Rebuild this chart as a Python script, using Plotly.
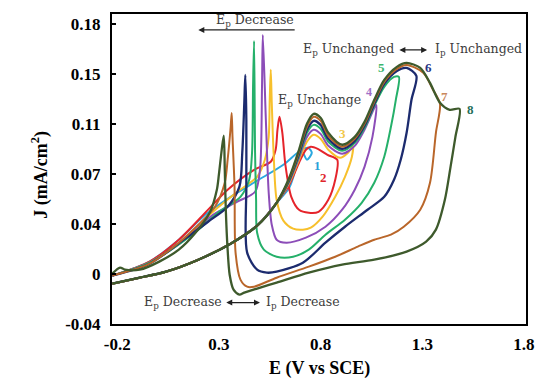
import plotly.graph_objects as go
import numpy as np

# Common start of the anodic (forward) scan
FWD_E = [-0.224, -0.089, 0.040, 0.199, 0.358, 0.488, 0.584]
FWD_J = [-0.0107, -0.0063, -0.0019, 0.0069, 0.0187, 0.0319, 0.0487]

# Curve 1 (cyan)
E1 = [0.646, 0.680, 0.709, 0.733, 0.757, 0.738, 0.699, 0.617, 0.488, 0.358, 0.233, 0.103, -0.041, -0.224]
J1 = [0.0597, 0.0744, 0.0861, 0.0803, 0.0854, 0.0891, 0.0869, 0.0766, 0.0649, 0.0531, 0.0399, 0.0216, 0.0055, -0.0048]

# Curve 2 (red)
E2 = [0.646, 0.694, 0.728, 0.752, 0.786, 0.834, 0.882,
      0.872, 0.838, 0.790, 0.742, 0.694, 0.656, 0.627, 0.612, 0.598, 0.588, 0.579, 0.555, 0.473, 0.343, 0.233, 0.103, -0.041, -0.224]
J2 = [0.0619, 0.0781, 0.0876, 0.0898, 0.0883, 0.0839, 0.0803,
      0.0656, 0.0509, 0.0421, 0.0414, 0.0436, 0.0531, 0.0766, 0.1001, 0.1118, 0.1023, 0.0876, 0.0788, 0.0729, 0.0583, 0.0414, 0.0216, 0.0055, -0.0048]

# Curve 3 (yellow)
E3 = [0.646, 0.694, 0.733, 0.766, 0.800, 0.838, 0.896, 0.935, 0.959,
      0.954, 0.920, 0.872, 0.810, 0.752, 0.713, 0.665, 0.617, 0.584, 0.569, 0.560, 0.555, 0.550, 0.545, 0.526, 0.488, 0.391, 0.271, 0.151, -0.041, -0.224]
J3 = [0.0634, 0.0803, 0.0935, 0.0986, 0.0957, 0.0876, 0.0817, 0.0854, 0.0905,
      0.0825, 0.0678, 0.0531, 0.0385, 0.0304, 0.0289, 0.0297, 0.0356, 0.0509, 0.0854, 0.1221, 0.1463, 0.1243, 0.0971, 0.0803, 0.0678, 0.0568, 0.0421, 0.0245, 0.0047, -0.0048]

# Curve 4 (purple)
E4 = [0.646, 0.694, 0.733, 0.766, 0.800, 0.838, 0.906, 0.968, 1.016, 1.074,
      1.055, 1.016, 0.968, 0.906, 0.824, 0.728, 0.632, 0.584, 0.560, 0.545, 0.531, 0.516, 0.512, 0.502, 0.478, 0.391, 0.271, 0.151, -0.041, -0.224]
J4 = [0.0641, 0.0817, 0.0971, 0.1023, 0.0993, 0.0905, 0.0847, 0.0905, 0.1023, 0.1206,
      0.0971, 0.0751, 0.0583, 0.0436, 0.0311, 0.0231, 0.0194, 0.0216, 0.0326, 0.0561, 0.1096, 0.1719, 0.1338, 0.0729, 0.0568, 0.0495, 0.0399, 0.0238, 0.0047, -0.0048]

# Curve 5 (green)
E5 = [0.646, 0.694, 0.733, 0.766, 0.800, 0.838, 0.906, 0.968, 1.016, 1.064, 1.113, 1.161, 1.185,
      1.170, 1.146, 1.113, 1.064, 1.002, 0.920, 0.824, 0.742, 0.665, 0.584, 0.521, 0.488, 0.483, 0.478, 0.473, 0.468, 0.463, 0.449, 0.406, 0.295, 0.175, -0.041, -0.224]
J5 = [0.0649, 0.0832, 0.1001, 0.1059, 0.1030, 0.0935, 0.0869, 0.0927, 0.1037, 0.1199, 0.1338, 0.1411, 0.1411,
      0.1243, 0.1045, 0.0825, 0.0634, 0.0487, 0.0363, 0.0253, 0.0143, 0.0091, 0.0091, 0.0143, 0.0267, 0.0509, 0.0854, 0.1675, 0.1338, 0.0854, 0.0656, 0.0531, 0.0414, 0.0260, 0.0047, -0.0048]

# Curve 6 (navy)
E6 = [0.646, 0.694, 0.733, 0.766, 0.800, 0.838, 0.906, 0.968, 1.016, 1.064, 1.113, 1.175, 1.223, 1.271,
      1.247, 1.223, 1.194, 1.161, 1.113, 1.031, 0.920, 0.824, 0.713, 0.584, 0.536, 0.488, 0.439, 0.435, 0.435, 0.430, 0.425, 0.415, 0.401, 0.343, 0.247, 0.127, -0.041, -0.224]
J6 = [0.0656, 0.0847, 0.1023, 0.1089, 0.1059, 0.0957, 0.0883, 0.0942, 0.1052, 0.1213, 0.1360, 0.1455, 0.1477, 0.1419,
      0.1243, 0.1001, 0.0803, 0.0656, 0.0531, 0.0436, 0.0311, 0.0194, 0.0047, -0.0019, -0.0026, -0.0004, 0.0121, 0.0605, 0.1096, 0.1426, 0.1221, 0.0854, 0.0605, 0.0458, 0.0348, 0.0216, 0.0040, -0.0048]

# Curve 7 (brown)
E7 = [0.646, 0.694, 0.733, 0.766, 0.800, 0.838, 0.906, 0.968, 1.016, 1.064, 1.113, 1.175, 1.223, 1.305, 1.353, 1.387,
      1.367, 1.338, 1.290, 1.209, 1.146, 1.064, 0.983, 0.872, 0.742, 0.584, 0.473, 0.439, 0.406, 0.382, 0.377, 0.367, 0.363, 0.358, 0.343, 0.329, 0.281, 0.199, 0.103, -0.041, -0.224]
J7 = [0.0663, 0.0861, 0.1045, 0.1118, 0.1089, 0.0979, 0.0898, 0.0957, 0.1067, 0.1228, 0.1375, 0.1470, 0.1499, 0.1441, 0.1316, 0.1213,
      0.1001, 0.0634, 0.0436, 0.0311, 0.0253, 0.0216, 0.0165, 0.0091, 0.0018, -0.0063, -0.0129, -0.0129, -0.0077, 0.0121, 0.0605, 0.0971, 0.1147, 0.1045, 0.0803, 0.0634, 0.0458, 0.0326, 0.0194, 0.0040, -0.0048]

# Curve 8 (dark green)
E8 = [0.646, 0.694, 0.733, 0.766, 0.800, 0.838, 0.906, 0.968, 1.016, 1.064, 1.113, 1.175, 1.223, 1.290, 1.338, 1.387, 1.435, 1.483,
      1.463, 1.439, 1.411, 1.367, 1.319, 1.223, 1.064, 0.906, 0.742, 0.584, 0.488, 0.425, 0.401, 0.372, 0.353, 0.343, 0.334, 0.329, 0.324, 0.314, 0.300, 0.290, 0.257, 0.185, 0.103, 0.007, -0.089, -0.162, -0.186, -0.224]
J8 = [0.0671, 0.0876, 0.1067, 0.1140, 0.1111, 0.1001, 0.0913, 0.0971, 0.1081, 0.1243, 0.1389, 0.1485, 0.1514, 0.1477, 0.1367, 0.1221, 0.1169, 0.1177,
      0.0971, 0.0751, 0.0509, 0.0290, 0.0201, 0.0128, 0.0069, 0.0033, -0.0026, -0.0099, -0.0143, -0.0173, -0.0187, -0.0151, -0.0041, 0.0143, 0.0436, 0.0729, 0.0979, 0.0876, 0.0693, 0.0583, 0.0421, 0.0267, 0.0143, 0.0055, -0.0004, -0.0004, 0.0011, -0.0033]

CURVES_E = [E1, E2, E3, E4, E5, E6, E7, E8]
CURVES_J = [J1, J2, J3, J4, J5, J6, J7, J8]
COLORS = ["#2aa8e0", "#e5242b", "#f7c02c", "#8c4db8", "#25b06a", "#1c2b6e", "#b9662a", "#3e5a2c"]
LABEL_COLORS = ["#2b9fd8", "#e0262c", "#f2c84b", "#a070c8", "#3bb56c", "#283583", "#c9875c", "#1f6e58"]
LABELS = ["1", "2", "3", "4", "5", "6", "7", "8"]
LABEL_E = [0.786, 0.814, 0.906, 1.031, 1.098, 1.329, 1.411, 1.536]
LABEL_J = [0.0759, 0.0671, 0.0993, 0.1294, 0.1477, 0.1477, 0.1265, 0.1170]

X_TICKS = [-0.2, 0.3, 0.8, 1.3, 1.8]
X_TICKTEXT = ["-0.2", "0.3", "0.8", "1.3", "1.8"]
Y_TICKS = list(np.linspace(-0.04, 0.18, 7))
Y_TICKTEXT = ["-0.04", "0", "0.04", "0.07", "0.11", "0.15", "0.18"]

fig = go.Figure()
for k in range(8):
    fig.add_trace(go.Scatter(
        x=FWD_E + CURVES_E[k], y=FWD_J + CURVES_J[k], mode="lines",
        line=dict(color=COLORS[k], width=2.3 if k in (5, 7) else 2, shape="spline", smoothing=0.8),
        showlegend=False, hoverinfo="skip"))

SERIF = "Liberation Serif"
ann = []
for k in range(8):
    if k == 3:
        continue
    ann.append(dict(x=LABEL_E[k], y=LABEL_J[k], text=f"<b>{LABELS[k]}</b>", showarrow=False,
                    font=dict(family=SERIF, size=13, color=LABEL_COLORS[k])))

txt = dict(family="DejaVu Serif", size=12.5, color="#3c3c3c")
ann += [
    dict(x=0.478, y=0.1822, text="E<sub>p</sub> Decrease", showarrow=False, font=txt),
    dict(x=0.199, y=0.1756, ax=0.680, ay=0.1756, axref="x", ayref="y", text="", showarrow=True,
         arrowhead=2, arrowsize=1, arrowwidth=1.2, arrowcolor="#222"),
    dict(x=0.935, y=0.1609, text="E<sub>p</sub> Unchanged", showarrow=False, font=txt),
    dict(x=1.324, y=0.1609, ax=1.180, ay=0.1609, axref="x", ayref="y", text="", showarrow=True,
         arrowhead=2, arrowside="end+start", arrowsize=1, arrowwidth=1.2, arrowcolor="#222"),
    dict(x=1.575, y=0.1609, text="I<sub>p</sub> Unchanged", showarrow=False, font=txt),
    dict(x=0.795, y=0.1235, text="E<sub>p</sub> Unchange", showarrow=False, font=txt),
    dict(x=1.036, y=0.1300, text="<b>4</b>", showarrow=False, font=dict(family=SERIF, size=12, color=LABEL_COLORS[3])),
    dict(x=0.122, y=-0.0246, text="E<sub>p</sub> Decrease", showarrow=False, font=txt),
    dict(x=0.502, y=-0.0246, ax=0.329, ay=-0.0246, axref="x", ayref="y", text="", showarrow=True,
         arrowhead=2, arrowside="end+start", arrowsize=1, arrowwidth=1.2, arrowcolor="#222"),
    dict(x=0.712, y=-0.0246, text="I<sub>p</sub> Decrease", showarrow=False, font=txt),
    dict(x=0.501, y=-0.142, xref="paper", yref="paper", text="E (V vs SCE)", showarrow=False,
         font=dict(family=SERIF, size=18, color="black", weight="bold"), yanchor="middle"),
    dict(x=-0.208, y=0.481, xref="paper", yref="paper", text="J (mA/cm<sup>2</sup>)", showarrow=False,
         textangle=-90, font=dict(family=SERIF, size=18, color="black", weight="bold")),
]

fig.update_layout(
    width=540, height=378, margin=dict(l=112, r=5, t=14, b=54),
    paper_bgcolor="white", plot_bgcolor="white",
    annotations=ann,
    xaxis=dict(range=[-0.2255, 1.81], tickvals=X_TICKS, ticktext=X_TICKTEXT, showgrid=False, zeroline=False,
               showline=True, mirror=True, linecolor="black", linewidth=2, ticks="",
               ticklabeloverflow="allow",
               tickfont=dict(family=SERIF, size=17, color="black", weight="bold"), ticklabelstandoff=4),
    yaxis=dict(range=[-0.0403, 0.1873], tickvals=Y_TICKS, ticktext=Y_TICKTEXT, showgrid=False, zeroline=False,
               showline=True, mirror=True, linecolor="black", linewidth=2, ticks="inside", ticklen=4,
               tickcolor="black", tickwidth=1.5,
               tickfont=dict(family=SERIF, size=17, color="black", weight="bold"), ticklabelstandoff=6),
)
fig.write_html("out.html")
